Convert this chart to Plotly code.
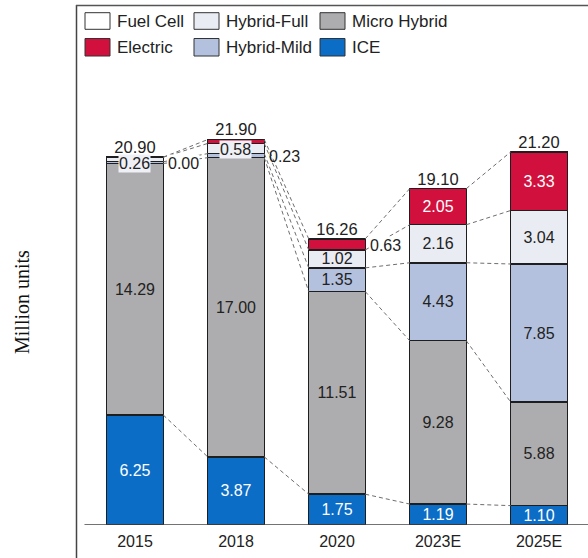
import plotly.graph_objects as go

# ---------------- data ----------------
categories = ["2015", "2018", "2020", "2023E", "2025E"]
ice = [6.25, 3.87, 1.75, 1.19, 1.10]
micro_hybrid = [14.29, 17.00, 11.51, 9.28, 5.88]
hybrid_mild = [0.10, 0.23, 1.35, 4.43, 7.85]
hybrid_full = [0.26, 0.58, 1.02, 2.16, 3.04]
electric = [0.00, 0.22, 0.63, 2.05, 3.33]
fuel_cell = [0.00, 0.00, 0.00, 0.00, 0.00]
totals = [20.90, 21.90, 16.26, 19.10, 21.20]

series_names = ["ICE", "Micro Hybrid", "Hybrid-Mild", "Hybrid-Full", "Electric", "Fuel Cell"]
series_values = [ice, micro_hybrid, hybrid_mild, hybrid_full, electric, fuel_cell]
colors = {
    "ICE": "#0b6dc6",
    "Micro Hybrid": "#adadaf",
    "Hybrid-Mild": "#b3c1de",
    "Hybrid-Full": "#e9ecf3",
    "Electric": "#d2103d",
    "Fuel Cell": "#ffffff",
}
text_colors = {
    "ICE": "white", "Micro Hybrid": "#222222", "Hybrid-Mild": "#222222",
    "Hybrid-Full": "#222222", "Electric": "white", "Fuel Cell": "#222222",
}

# ---------------- layout geometry ----------------
W, H = 588, 558
ML, MR, MT, MB = 76, 0, 5, 33
PW, PH = W - ML - MR, H - MT - MB
BAR_W = 0.56
FONT = "Liberation Sans, Arial, sans-serif"

def px_x(px):
    return (px - ML) / PW

def px_y(py):
    return (H - MB - py) / PH

x_pos = list(range(len(categories)))
fig = go.Figure()

# stacked bars
for name, vals in zip(series_names, series_values):
    fig.add_trace(go.Bar(
        x=x_pos, y=vals, width=BAR_W, name=name,
        marker=dict(color=colors[name], line=dict(color="#1e1e1e", width=1.5)),
        text=[f"{v:.2f}" if v >= 1 else "" for v in vals],
        textposition="inside", insidetextanchor="middle", textangle=0,
        textfont=dict(family=FONT, size=16, color=text_colors[name]),
        showlegend=False, hoverinfo="skip",
    ))

# dashed connector lines between cumulative levels of neighbouring bars
cum = []
run = [0.0] * len(categories)
for vals in series_values[:-1]:
    run = [r + v for r, v in zip(run, vals)]
    cum.append(list(run))
lx, ly = [], []
for level in cum:
    for i in range(len(categories) - 1):
        lx += [x_pos[i] + BAR_W / 2, x_pos[i + 1] - BAR_W / 2, None]
        ly += [level[i], level[i + 1], None]
fig.add_trace(go.Scatter(x=lx, y=ly, mode="lines",
                         line=dict(color="#6e6e6e", width=1, dash="4px,3px"),
                         showlegend=False, hoverinfo="skip"))

# totals
fig.add_trace(go.Scatter(x=x_pos, y=totals, mode="text",
                         text=[f"{t:.2f}" for t in totals], textposition="top center",
                         textfont=dict(family=FONT, size=16.5, color="#222222"),
                         showlegend=False, hoverinfo="skip"))

annotations = []
# small-segment labels
cum_full_mid = [c_mild + f / 2 for c_mild, f in zip(cum[2], hybrid_full)]
for i, ys in ((0, -4), (1, -1)):
    annotations.append(dict(x=x_pos[i], y=cum_full_mid[i], text=f"{hybrid_full[i]:.2f}",
                            showarrow=False, xref="x", yref="y", yshift=ys,
                            font=dict(family=FONT, size=16, color="#222222"),
                            bgcolor="#eef0f5", borderpad=0))
# outside labels on the right of bars
annotations.append(dict(x=x_pos[0] + BAR_W / 2, y=cum[4][0], text=f"{electric[0]:.2f}",
                        xanchor="left", xshift=4, yshift=-6, showarrow=False,
                        font=dict(family=FONT, size=16, color="#222222"),
                        bgcolor="white", borderpad=0))
annotations.append(dict(x=x_pos[1] + BAR_W / 2, y=cum[1][1] + hybrid_mild[1] / 2,
                        text=f"{hybrid_mild[1]:.2f}", xanchor="left", xshift=3, yshift=-1,
                        showarrow=False, font=dict(family=FONT, size=16, color="#222222")))
annotations.append(dict(x=x_pos[2] + BAR_W / 2, y=cum[3][2] + electric[2] / 2,
                        text=f"{electric[2]:.2f}", xanchor="left", xshift=4, yshift=-1,
                        showarrow=False, font=dict(family=FONT, size=16, color="#222222"),
                        bgcolor="white", borderpad=0))

# y-axis title
annotations.append(dict(x=px_x(22), y=px_y(302), xref="paper", yref="paper",
                        xanchor="center", yanchor="middle",
                        text="Million units", textangle=-90, showarrow=False,
                        font=dict(family="Liberation Serif, Times New Roman, serif", size=20,
                                  color="#111111")))

shapes = []
# frame lines (left and top)
shapes.append(dict(type="line", xref="paper", yref="paper",
                   x0=px_x(76.5), x1=px_x(76.5), y0=px_y(5), y1=px_y(H),
                   line=dict(color="#444444", width=1.5)))
shapes.append(dict(type="line", xref="paper", yref="paper",
                   x0=px_x(76), x1=px_x(W), y0=px_y(5.5), y1=px_y(5.5),
                   line=dict(color="#555555", width=1.5)))
# baseline
shapes.append(dict(type="line", xref="x", yref="y", x0=-0.5, x1=4.6, y0=0, y1=0,
                   line=dict(color="#444444", width=1.5)))

# manual legend
legend_rows = [["Fuel Cell", "Hybrid-Full", "Micro Hybrid"], ["Electric", "Hybrid-Mild", "ICE"]]
col_box_x = [85, 194, 320]
row_box_y = [(12.7, 29.3), (38.5, 56)]
for r, row in enumerate(legend_rows):
    for c, name in enumerate(row):
        x0 = col_box_x[c]
        y0, y1 = row_box_y[r]
        shapes.append(dict(type="rect", xref="paper", yref="paper",
                           x0=px_x(x0), x1=px_x(x0 + 25), y0=px_y(y1), y1=px_y(y0),
                           fillcolor=colors[name], line=dict(color="#333333", width=1)))
        annotations.append(dict(x=px_x(x0 + 30), y=px_y((y0 + y1) / 2), xref="paper", yref="paper",
                                text=name, xanchor="left", yanchor="middle", showarrow=False,
                                font=dict(family=FONT, size=17, color="#222222")))

fig.update_layout(
    width=W, height=H, barmode="stack",
    margin=dict(l=ML, r=MR, t=MT, b=MB, pad=0),
    paper_bgcolor="white", plot_bgcolor="white",
    xaxis=dict(range=[-0.584, 4.485], tickvals=x_pos, ticktext=categories,
               showgrid=False, zeroline=False, showline=False, ticks="",
               ticklabelstandoff=5,
               tickfont=dict(family=FONT, size=16, color="#222222")),
    yaxis=dict(range=[0, PH / 17.6], showgrid=False, zeroline=False, showline=False,
               showticklabels=False, ticks=""),
    uniformtext=dict(minsize=16, mode="show"),
    annotations=annotations, shapes=shapes, showlegend=False,
)

fig.write_html("out.html", config={"displayModeBar": False},
               post_script="document.body.style.margin='0';")
